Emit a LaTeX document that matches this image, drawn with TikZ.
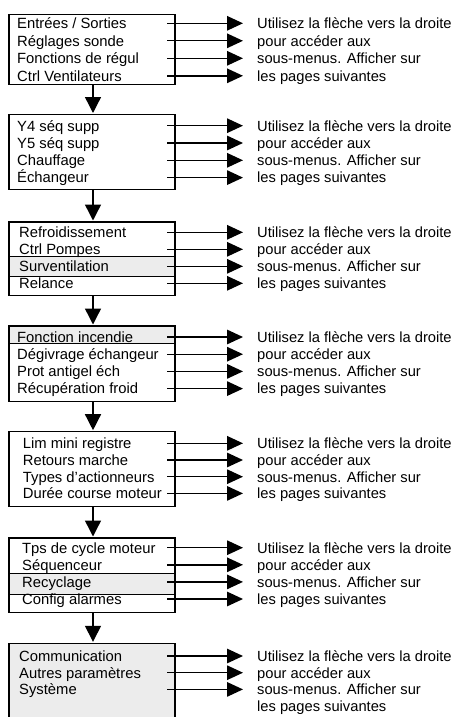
\documentclass[tikz,border=0pt]{standalone}
\usepackage{fontspec}
\setmainfont{Liberation Sans}
\usetikzlibrary{arrows.meta}
\tikzset{
  boxfr/.style={draw=black, line width=1.3pt, inner sep=0pt, outer sep=0pt,
                minimum width=166pt, anchor=north west},
  item/.style={inner sep=0pt, anchor=base west, font=\fontsize{14.8}{17}\selectfont},
  note/.style={inner sep=0pt, anchor=base west, font=\fontsize{14.7}{17}\selectfont},
  harr/.style={line width=1.4pt, -{Triangle[length=16pt,width=14.5pt]}},
  varr/.style={line width=1.4pt, -{Triangle[length=16pt,width=16pt]}, shorten >=1.5pt},
  bandfill/.style={fill=gray!15},
  bandline/.style={line width=1pt},
}
% #1 name, #2 top, #3 height, #4 text x, #5 first arrow y, #6 spacing, #7 items, #8 fill
\newcommand\menublock[8]{%
  \node[boxfr, minimum height=#3pt, fill=#8] (#1) at (9,#2) {};
  \foreach \t [count=\i] in {#7} {
    \pgfmathsetmacro\yy{#5+(\i-1)*#6}
    \pgfmathsetmacro\yb{\yy+5.3}
    \node[item] (#1i\i) at (#4,\yb) {\t};
    \coordinate (#1s\i) at (167,\yy);
    \coordinate (#1e\i) at (243,\yy);
    \draw[harr] (#1s\i) -- (#1e\i);
  }
  \foreach \t [count=\i] in {Utilisez la flèche vers la droite, pour accéder aux,
      sous-menus. Afficher sur, les pages suivantes} {
    \pgfmathsetmacro\yb{#5+(\i-1)*#6+5.3}
    \node[note] (#1n\i) at (257,\yb) {\t};
  }
}
\begin{document}
\begin{tikzpicture}[x=1pt,y=-1pt]
\useasboundingbox (0,0) rectangle (461,717);
\clip (0,0) rectangle (461,717);
\fill[white] (0,0) rectangle (461,717);
% highlighted bands
\fill[bandfill] (9,256.7) rectangle (175,276);
\draw[bandline] (9,256.7) -- (175,256.7) (9,276) -- (175,276);
\fill[bandfill] (9,326) rectangle (175,343);
\draw[bandline] (9,343) -- (175,343);
\fill[bandfill] (9,573.3) rectangle (175,594.3);
\draw[bandline] (9,573.3) -- (175,573.3) (9,594.3) -- (175,594.3);
% blocks
\menublock{b1}{14.5}{70}{17}{23.3}{17.5}{Entrées / Sorties, Réglages sonde, Fonctions de régul, Ctrl Ventilateurs}{none}
\menublock{b2}{114.5}{74.8}{17}{125.7}{17.3}{Y4 séq supp, Y5 séq supp, Chauffage, Échangeur}{none}
\menublock{b3}{222}{73.5}{19}{232.3}{17}{Refroidissement, Ctrl Pompes, Surventilation, Relance}{none}
\menublock{b4}{326}{75.5}{17}{337}{17.2}{Fonction incendie, Dégivrage échangeur, Prot antigel éch, Récupération froid}{none}
\menublock{b5}{431.7}{75}{22.7}{443.3}{16.7}{Lim mini registre, Retours marche, Types d’actionneurs, Durée course moteur}{none}
\menublock{b6}{538}{74.7}{22}{547.7}{17.1}{Tps de cycle moteur, Séquenceur, Recyclage, Config alarmes}{none}
\menublock{b7}{643.3}{90}{19}{656}{16.7}{Communication, Autres paramètres, Système}{gray!15}
% flow arrows
\draw[varr] ([xshift=1pt]b1.south) -- ([xshift=1pt]b2.north);
\draw[varr] ([xshift=1pt]b2.south) -- ([xshift=1pt]b3.north);
\draw[varr] ([xshift=1pt]b3.south) -- ([xshift=1pt]b4.north);
\draw[varr] ([xshift=1pt]b4.south) -- ([xshift=1pt]b5.north);
\draw[varr] ([xshift=1pt]b5.south) -- ([xshift=1pt]b6.north);
\draw[varr] ([xshift=1pt]b6.south) -- ([xshift=1pt]b7.north);
\end{tikzpicture}
\end{document}
